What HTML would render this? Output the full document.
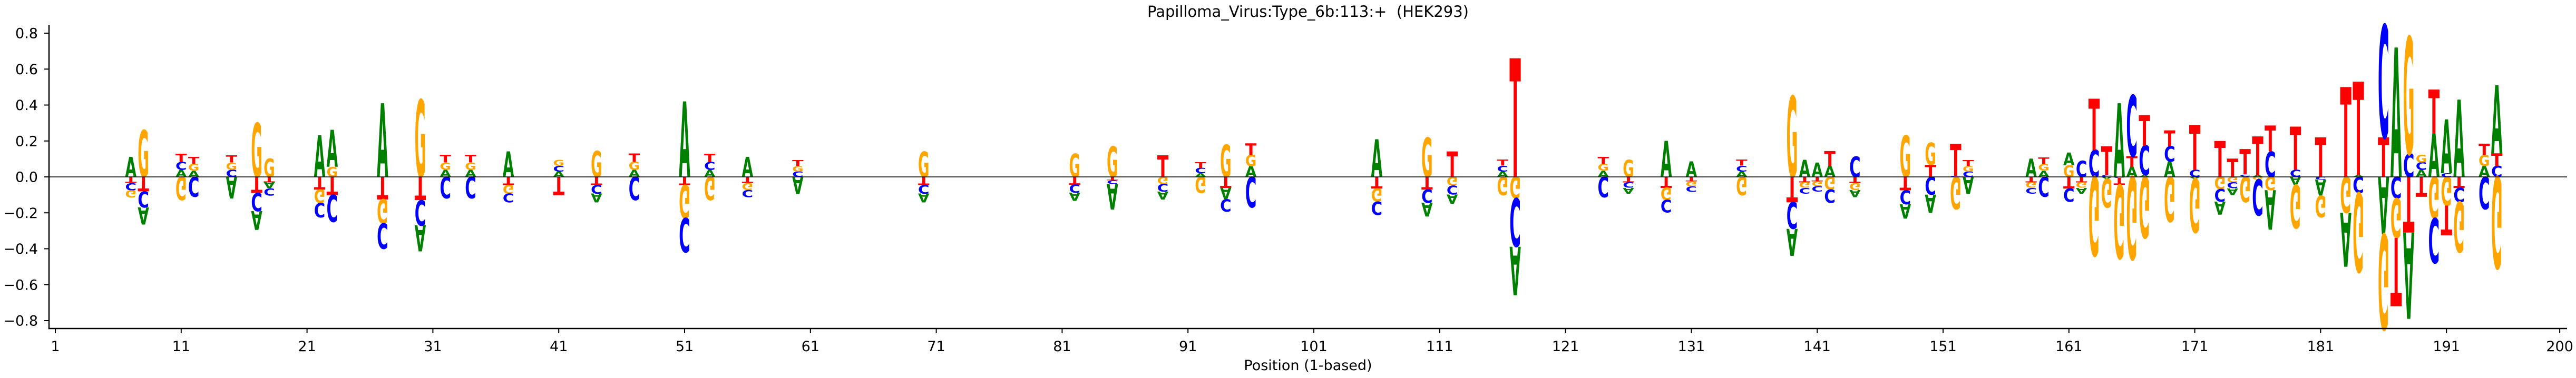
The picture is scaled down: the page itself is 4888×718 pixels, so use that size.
<!DOCTYPE html>
<html><head><meta charset="utf-8"><style>
html,body{margin:0;padding:0;background:#fff;}
svg{display:block;}
text{font-family:"DejaVu Sans","Liberation Sans",sans-serif;}
</style></head><body>
<svg id="chart" width="4888" height="718" viewBox="0 0 4888 718" xmlns="http://www.w3.org/2000/svg">
<text x="2482" y="32" font-size="29" text-anchor="middle" xml:space="preserve" style="white-space:pre">Papilloma_Virus:Type_6b:113:+  (HEK293)</text>
<text x="2482" y="703" font-size="27" text-anchor="middle">Position (1-based)</text>
<g id="logo"></g>
<g id="axes"></g>
</svg>
<script>
const positions = [7,8,11,12,15,17,18,22,23,27,30,32,34,37,41,44,47,51,53,56,60,70,82,85,89,92,94,96,106,110,112,116,117,124,126,129,131,135,139,140,141,142,144,148,150,152,153,158,159,161,162,163,164,165,166,167,169,171,173,174,175,176,177,179,181,183,184,186,187,188,189,190,191,192,194,195];
const valA = [0.11,-0.095,0.04,0.035,-0.12,-0.105,-0.035,0.23,0.205,0.41,-0.145,0.04,0.04,0.14,0.03,-0.05,0.04,0.42,0.04,0.11,-0.095,-0.05,-0.046,-0.14,-0.044,0.02,-0.065,0.06,0.21,-0.076,-0.052,0.03,-0.27,0.035,-0.032,0.2,0.085,0.03,-0.15,0.095,0.08,0.06,-0.04,-0.08,-0.1,0,-0.095,0.1,0.035,0.07,-0.032,0,-0.01,0.41,0.057,0.01,0.085,-0.01,-0.072,-0.036,0.005,0.01,-0.22,-0.045,-0.09,-0.3,0.01,-0.32,0.72,-0.48,0.04,0.24,0.3,0.43,0.06,0.38];
const valC = [-0.04,-0.09,0.044,-0.11,0.04,-0.1,-0.04,-0.08,-0.15,-0.14,-0.14,-0.12,-0.12,-0.05,0.032,-0.048,-0.13,-0.19,0.043,-0.04,0.03,-0.048,-0.045,-0.02,-0.042,0.03,-0.068,-0.17,-0.075,-0.075,-0.05,0.033,-0.268,-0.115,-0.031,-0.07,-0.03,0.033,-0.148,-0.033,-0.03,-0.075,0.115,-0.078,-0.098,0.005,0.03,-0.032,-0.11,-0.075,0.09,0.15,0.01,-0.005,0.34,0.165,0.086,0.04,-0.07,-0.034,0.008,-0.2,0.14,0.04,-0.015,0,-0.09,0.626,-0.12,0.13,0.041,-0.25,0.02,-0.08,-0.18,0.06];
const valG = [-0.04,0.26,-0.13,0.038,0.04,0.3,0.1,-0.075,0.055,-0.135,0.43,0.04,0.04,-0.048,0.034,0.145,0.045,-0.185,-0.13,-0.038,0.031,0.14,0.13,0.17,-0.04,-0.09,0.18,0.062,-0.072,0.22,-0.048,-0.1,-0.12,0.037,0.095,-0.068,-0.028,-0.1,0.45,-0.031,-0.027,-0.07,-0.038,0.23,0.124,-0.18,0.031,-0.031,0.036,0.065,-0.031,-0.44,-0.16,-0.41,-0.46,-0.34,-0.25,-0.3,-0.068,-0.03,-0.14,-0.015,-0.075,-0.24,-0.12,-0.2,-0.44,-0.53,-0.22,0.65,0.042,-0.23,-0.16,-0.28,0.061,-0.51];
const valT = [-0.035,-0.08,0.046,0.038,0.04,-0.09,-0.03,-0.07,-0.1,-0.125,-0.13,0.042,0.042,-0.045,-0.1,-0.045,0.046,-0.045,0.045,-0.035,0.032,-0.045,-0.043,-0.019,0.12,0.032,-0.06,0.064,-0.065,-0.07,0.14,0.035,0.66,0.04,-0.03,-0.06,-0.025,0.035,-0.14,-0.03,-0.025,0.083,-0.035,-0.075,0.067,0.18,0.032,-0.03,0.037,-0.065,-0.03,0.285,0.16,-0.04,0.058,0.17,0.087,0.25,0.2,0.1,0.14,0.215,0.145,0.24,0.22,0.5,0.52,0.22,-0.38,-0.31,-0.11,0.245,-0.165,-0.06,0.062,0.07];
const xTickLabels = [1,11,21,31,41,51,61,71,81,91,101,111,121,131,141,151,161,171,181,191,200];
const yTickLabels = [0.8,0.6,0.4,0.2,0.0,-0.2,-0.4,-0.6,-0.8];

const NS = "http://www.w3.org/2000/svg";
const X0 = 105, XSTEP = 23.88, Y0 = 336, YSCALE = 341.25;
const AX_L = 93, AX_R = 4871, AX_T = 47, AX_B = 624;
function xs(p){ return X0 + (p - 1) * XSTEP; }
function ys(v){ return Y0 - v * YSCALE; }
const colors = {A:"#008000", C:"#0000ff", G:"#ffa500", T:"#ff0000"};
const logo = document.getElementById("logo");
const axes = document.getElementById("axes");
const LW = XSTEP * 0.9;

function mk(tag, attrs, parent){
  const e = document.createElementNS(NS, tag);
  for (const k in attrs) e.setAttribute(k, attrs[k]);
  parent.appendChild(e);
  return e;
}

positions.forEach((p, i) => {
  const items = [["A", valA[i]], ["C", valC[i]], ["G", valG[i]], ["T", valT[i]]];
  const pos = items.filter(d => d[1] > 0).sort((a, b) => a[1] - b[1]);
  const neg = items.filter(d => d[1] < 0).sort((a, b) => b[1] - a[1]);
  const xl = xs(p) - LW / 2;
  let acc = 0;
  pos.forEach(d => {
    const yb = ys(acc), yt = ys(acc + d[1]);
    const h = yb - yt;
    const t = mk("text", {transform: `translate(${xl},${yb}) scale(1,${h / 72.9})`, "font-size": 100, "font-weight": "bold", fill: colors[d[0]], textLength: LW, lengthAdjust: "spacingAndGlyphs", x: 0, y: 0}, logo);
    
    
    t.textContent = d[0];
    acc += d[1];
  });
  acc = 0;
  neg.forEach(d => {
    const ytop = ys(acc), ybot = ys(acc + d[1]);
    const h = ybot - ytop;
    const t = mk("text", {transform: `translate(${xl},${ytop}) scale(1,${-h / 72.9})`, "font-size": 100, "font-weight": "bold", fill: colors[d[0]], textLength: LW, lengthAdjust: "spacingAndGlyphs", x: 0, y: 0}, logo);
    
    
    t.textContent = d[0];
    acc += d[1];
  });
});

const zl = mk("line", {x1: AX_L, x2: AX_R, y1: ys(0), y2: ys(0), stroke: "#000", "stroke-width": 1.4}, axes);


const ls = mk("line", {x1: AX_L, x2: AX_L, y1: AX_T, y2: AX_B + 1.2, stroke: "#000", "stroke-width": 2.5}, axes);


const bs = mk("line", {x1: AX_L - 1.2, x2: AX_R, y1: AX_B, y2: AX_B, stroke: "#000", "stroke-width": 2.5}, axes);



xTickLabels.forEach(v => {
  const x = xs(v);
  const tk = mk("line", {x1: x, x2: x, y1: AX_B, y2: AX_B + 9, stroke: "#000", "stroke-width": 2}, axes);
  
  
  const tl = mk("text", {x: x, y: 667, "font-size": 27, "text-anchor": "middle", fill: "#000"}, axes);
  
  
  tl.textContent = v;
});
yTickLabels.forEach(v => {
  const y = ys(v);
  const tk = mk("line", {x1: AX_L - 9, x2: AX_L, y1: y, y2: y, stroke: "#000", "stroke-width": 2}, axes);
  
  
  const tl = mk("text", {x: 72, y: y + 9.5, "font-size": 27, "text-anchor": "end", fill: "#000"}, axes);
  
  
  tl.textContent = (v < 0 ? "\u2212" : "") + Math.abs(v).toFixed(1);
});
</script>
</body></html>
